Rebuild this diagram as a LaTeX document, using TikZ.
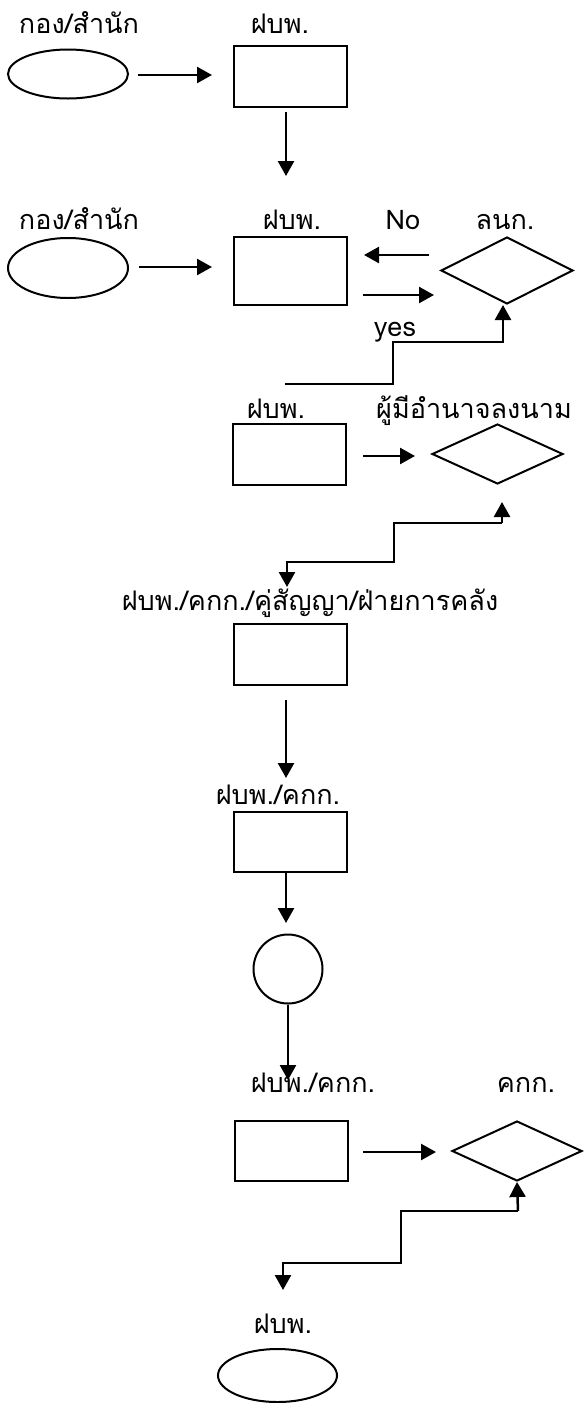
\documentclass[tikz,border=0pt]{standalone}
\usepackage{fontspec}
\newfontfamily\thaifont[Script=Thai]{Loma}
\usetikzlibrary{shapes.geometric,arrows.meta}
\begin{document}
\begin{tikzpicture}[x=1pt,y=-1pt,
  lbl/.style={font=\thaifont\fontsize{27}{32}\selectfont,anchor=base,inner sep=0pt},
  oval/.style={draw,line width=2pt,ellipse,inner sep=0pt,minimum width=120pt,minimum height=50pt},
  box/.style={draw,line width=2pt,rectangle,inner sep=0pt,minimum width=113pt,minimum height=61pt},
  dec/.style={draw,line width=2pt,diamond,inner sep=0pt,minimum width=132pt,minimum height=64pt},
  circ/.style={draw,line width=2pt,circle,inner sep=0pt,minimum size=69pt},
  arr/.style={line width=2.5pt,-{Triangle[length=15pt,width=16pt]}},
  ln/.style={line width=2.5pt}]
\useasboundingbox (0,0) rectangle (584,1403);
% row 1
\node[lbl] (t1) at (79,33) {กอง/สำนัก};
\node[lbl] (t2) at (280,33) {ฝบพ.};
\node[oval,minimum height=49pt] (e1) at (68,74) {};
\node[box] (r1) at (290,76) {};
\coordinate (a1s) at (138,75);
\coordinate (a1e) at (212,75);
\draw[arr] (a1s) -- (a1e);
\coordinate (v1s) at (286,112);
\coordinate (v1e) at (286,176);
\draw[arr] (v1s) -- (v1e);
% row 2
\node[lbl] (t3) at (79,229) {กอง/สำนัก};
\node[lbl] (t4) at (292,229) {ฝบพ.};
\node[lbl] (t5) at (403,229) {No};
\node[lbl] (t6) at (505,229) {ลนก.};
\node[lbl] (t7) at (395,336) {yes};
\node[oval,minimum height=60pt] (e2) at (68,268) {};
\node[box,minimum height=68pt] (r2) at (290,271) {};
\node[dec,minimum height=67pt] (d1) at (507,270.5) {};
\coordinate (a2s) at (139,267);
\coordinate (a2e) at (212,267);
\draw[arr] (a2s) -- (a2e);
\coordinate (nos) at (429,255);
\coordinate (noe) at (364,255);
\draw[arr] (nos) -- (noe);
\coordinate (yss) at (363,295);
\coordinate (yse) at (434,295);
\draw[arr] (yss) -- (yse);
\coordinate (c1) at (285,384);
\draw[arr] (c1) -- (393,384) -- (393,342) -- (503,342) -- (503,305);
% row 3
\node[lbl] (t8) at (276,418) {ฝบพ.};
\node[lbl] (t9) at (474,418) {ผู้มีอำนาจลงนาม};
\node[box] (r3) at (289.5,454.5) {};
\node[dec,minimum height=60pt,minimum width=131pt] (d2) at (497.5,454) {};
\coordinate (a3s) at (363,456);
\coordinate (a3e) at (415,456);
\draw[arr] (a3s) -- (a3e);
\coordinate (c2) at (502,523);
\coordinate (c2e) at (287,587);
\draw[arr] (c2) -- (502,502);
\draw[arr] (c2) -- (394,523) -- (394,562) -- (287,562) -- (c2e);
% row 4
\node[lbl] (t10) at (310,610) {ฝบพ./คกก./คู่สัญญา/ฝ่ายการคลัง};
\node[box] (r4) at (290.5,654.5) {};
\coordinate (v4s) at (286,700);
\coordinate (v4e) at (286,778);
\draw[arr] (v4s) -- (v4e);
% row 5
\node[lbl] (t11) at (278,804) {ฝบพ./คกก.};
\node[box,minimum height=60pt] (r5) at (290.5,842) {};
\draw[arr] (r5.south -| v4s) -- (286,923);
\node[circ] (k1) at (288,969) {};
\draw[arr] (k1.south) -- (288,1080);
% row 6
\node[lbl] (t12) at (313,1092) {ฝบพ./คกก.};
\node[lbl] (t13) at (526,1092) {คกก.};
\node[box,minimum height=60pt] (r6) at (291.5,1151) {};
\node[dec,minimum height=60pt,minimum width=130pt] (d3) at (517,1151) {};
\coordinate (a6s) at (363,1152);
\coordinate (a6e) at (436,1152);
\draw[arr] (a6s) -- (a6e);
\coordinate (c3) at (518,1211);
\draw[arr] (c3) -- (d3.south);
\draw[arr] (c3) -- (401,1211) -- (401,1263) -- (283,1263) -- (283,1290);
% row 7
\node[lbl] (t14) at (283,1333) {ฝบพ.};
\node[oval,minimum width=119pt,minimum height=53pt] (e3) at (277.5,1375.5) {};
\end{tikzpicture}
\end{document}
